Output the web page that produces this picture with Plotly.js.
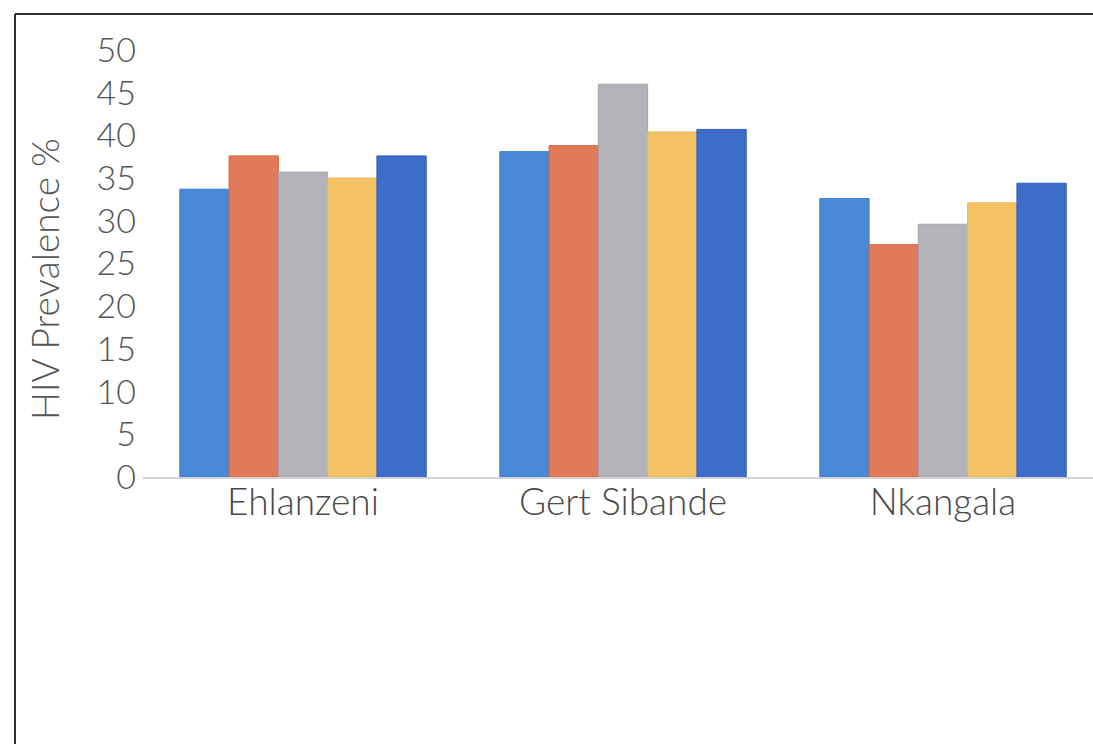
<!DOCTYPE html>
<html>
<head>
<meta charset="utf-8">
<script src="https://cdn.plot.ly/plotly-3.0.1.min.js"></script>
<style>
  html, body { margin: 0; padding: 0; background: #ffffff; }
  #chart { width: 1093px; height: 744px; }
</style>
</head>
<body>
<div id="chart"></div>
<script>
// District HIV prevalence, five survey series per district
const districts = ["Ehlanzeni", "Gert Sibande", "Nkangala"];
const series1 = [33.7, 38.1, 32.6];
const series2 = [37.6, 38.8, 27.2];
const series3 = [35.7, 46.0, 29.6];
const series4 = [35.0, 40.4, 32.1];
const series5 = [37.6, 40.7, 34.4];
const yTicks = [0, 5, 10, 15, 20, 25, 30, 35, 40, 45, 50];

const seriesList = [series1, series2, series3, series4, series5];
const fills = ["#4a89d8", "#e17a58", "#b3b3ba", "#f4c263", "#3d6dc8"];
const edges = ["#3a7bd0", "#d8663f", "#a4a4ac", "#eab652", "#2f5fbe"];

const traces = seriesList.map((vals, i) => ({
  type: "bar",
  x: districts,
  y: vals,
  marker: { color: fills[i], line: { color: edges[i], width: 1 } },
  hoverinfo: "skip"
}));

const fontFam = "Lato, 'Open Sans', sans-serif";

const layout = {
  width: 1093,
  height: 744,
  margin: { l: 143, r: 0, t: 50, b: 267, pad: 0 },
  paper_bgcolor: "#ffffff",
  plot_bgcolor: "#ffffff",
  showlegend: false,
  barmode: "group",
  bargap: 0.23,
  bargroupgap: 0,
  xaxis: {
    type: "category",
    range: [-0.5, 2.46875],
    showgrid: false,
    zeroline: false,
    showline: true,
    linecolor: "#d4d4d4",
    linewidth: 2,
    ticks: "",
    tickfont: { family: fontFam, size: 37, weight: 300, color: "#4a4a4a" },
    ticklabelstandoff: -8
  },
  yaxis: {
    range: [0, 50],
    tickvals: yTicks,
    ticktext: yTicks.map(String),
    showgrid: false,
    zeroline: false,
    showline: false,
    ticks: "",
    tickfont: { family: fontFam, size: 34, weight: 300, color: "#555555" },
    ticklabelstandoff: 6
  },
  annotations: [{
    text: "HIV Prevalence %",
    xref: "paper", yref: "paper",
    x: (44 - 143) / 950, y: (477 - 279) / 427,
    xanchor: "center", yanchor: "middle",
    textangle: -90,
    showarrow: false,
    font: { family: fontFam, size: 37, weight: 300, color: "#555555" }
  }],
  shapes: [
    { type: "line", xref: "paper", yref: "paper",
      x0: (15 - 143) / 950, x1: (15 - 143) / 950,
      y0: (477 - 14) / 427, y1: (477 - 760) / 427,
      line: { color: "#2e2e2e", width: 2 } },
    { type: "line", xref: "paper", yref: "paper",
      x0: (15 - 143) / 950, x1: (1100 - 143) / 950,
      y0: (477 - 14) / 427, y1: (477 - 14) / 427,
      line: { color: "#2e2e2e", width: 2 } }
  ]
};

Plotly.newPlot("chart", traces, layout, { displayModeBar: false, staticPlot: true });
</script>
</body>
</html>
